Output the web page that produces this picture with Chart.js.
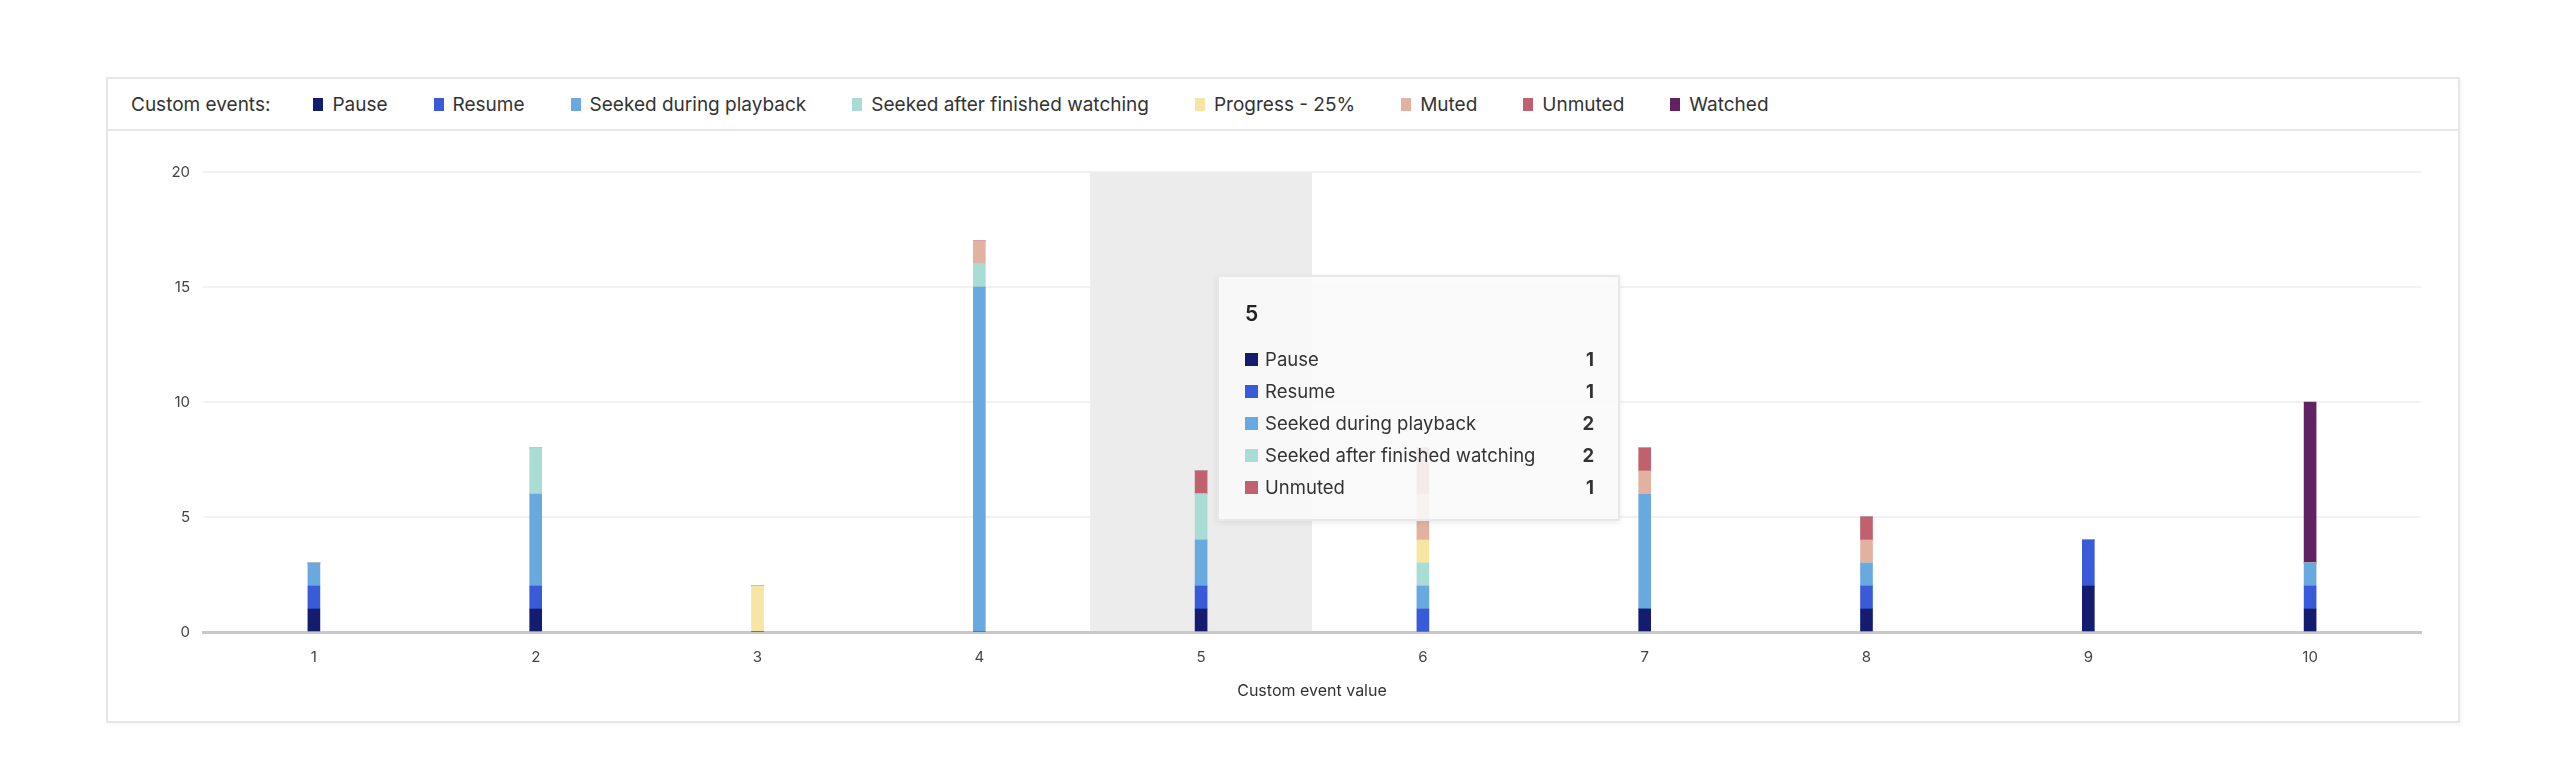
<!DOCTYPE html>
<html>
<head>
<meta charset="utf-8">
<script src="https://cdn.jsdelivr.net/npm/chart.js@4.4.0/dist/chart.umd.min.js"></script>
<style>
html, body { margin: 0; padding: 0; background: #fff; }
body { width: 2568px; height: 770px; position: relative; overflow: hidden; font-family: Inter, "Noto Sans", sans-serif; }
.card { position: absolute; left: 106px; top: 77px; width: 2354px; height: 646px; box-sizing: border-box;
        border: 2px solid #e6e6e6; box-shadow: 2px 2px 4px rgba(0,0,0,0.04); background: #fff; }
.legend { height: 50px; border-bottom: 2px solid #e6e6e6; display: flex; align-items: center; padding-left: 23px;
          font-size: 19px; color: #333; }
.legend .title { margin-right: 43px; }
.legend .item { display: flex; align-items: center; margin-right: 46px; }
.legend .sw { width: 10px; height: 13px; margin-right: 9px; }
.chart-wrap { position: absolute; left: 0; top: 52px; right: 0; bottom: 0; }
#tip { position: absolute; display: none; box-sizing: border-box; width: 403px; background: rgba(249,249,249,0.9);
       border: 2px solid #e8e8e8; box-shadow: 0 2px 6px rgba(0,0,0,0.08); padding: 25px 24px 16px 26px;
       color: #333; pointer-events: none; }
#tip .tt { font-size: 21px; font-weight: 600; line-height: 24px; margin-bottom: 17px; color: #222; }
#tip .row { display: flex; align-items: center; height: 32px; font-size: 18.5px; }
#tip .row .sq { width: 13px; height: 13px; margin-right: 7px; }
#tip .row .lb { flex: 1; }
#tip .row .v { font-weight: 700; }
</style>
</head>
<body>
<div class="card">
  <div class="legend" id="legend"><span class="title">Custom events:</span></div>
  <div class="chart-wrap">
    <canvas id="events_chart"></canvas>
    <div id="tip"></div>
  </div>
</div>
<script>
// data
var categories = ["1","2","3","4","5","6","7","8","9","10"];
var pause        = [1, 1, 0, 0, 1, 0, 1, 1, 2, 1];
var resume       = [1, 1, 0, 0, 1, 1, 0, 1, 2, 1];
var seekedDuring = [1, 4, 0, 15, 2, 1, 5, 1, 0, 1];
var seekedAfter  = [0, 2, 0, 1, 2, 1, 0, 0, 0, 0];
var progress25   = [0, 0, 2, 0, 0, 1, 0, 0, 0, 0];
var muted        = [0, 0, 0, 1, 0, 2, 1, 1, 0, 0];
var unmuted      = [0, 0, 0, 0, 1, 2, 1, 1, 0, 0];
var watched      = [0, 0, 0, 0, 0, 0, 0, 0, 0, 7];
var yTicks = [0, 5, 10, 15, 20];
var seriesNames = ["Pause","Resume","Seeked during playback","Seeked after finished watching","Progress - 25%","Muted","Unmuted","Watched"];
var seriesColors = ["#131c6e","#3a5bd9","#6aa9e0","#a8dcd4","#f6e6a4","#e2b2a0","#c1616d","#612262"];
var seriesData = [pause, resume, seekedDuring, seekedAfter, progress25, muted, unmuted, watched];
var activeIndex = 4; // hovered category "5"

// html legend
var legend = document.getElementById("legend");
seriesNames.forEach(function (name, i) {
    var it = document.createElement("span");
    it.className = "item";
    it.innerHTML = '<span class="sw" style="background:' + seriesColors[i] + '"></span>' + name;
    legend.appendChild(it);
});

var datasets = seriesNames.map(function (name, i) {
    return {
        label: name,
        data: seriesData[i],
        backgroundColor: seriesColors[i],
        hoverBackgroundColor: seriesColors[i],
        borderWidth: 0,
        barThickness: 12
    };
});

// grey band behind hovered category
var hoverBand = {
    id: "hoverBand",
    beforeDatasetsDraw: function (chart) {
        var act = chart.getActiveElements();
        if (!act.length) return;
        var x = chart.scales.x;
        var w = x.width / categories.length;
        var cx = x.getPixelForValue(act[0].index);
        var area = chart.chartArea;
        var ctx = chart.ctx;
        ctx.save();
        ctx.fillStyle = "#ececec";
        ctx.fillRect(cx - w / 2, area.top, w, area.bottom - area.top - 1);
        ctx.restore();
    }
};

function externalTip(context) {
    var tip = context.tooltip;
    var el = document.getElementById("tip");
    if (tip.opacity === 0 || !tip.dataPoints) { el.style.display = "none"; return; }
    var html = '<div class="tt">' + tip.title.join("") + '</div>';
    tip.dataPoints.forEach(function (p) {
        html += '<div class="row"><span class="sq" style="background:' + p.dataset.backgroundColor + '"></span>' +
                '<span class="lb">' + p.dataset.label + '</span><span class="v">' + p.raw + '</span></div>';
    });
    el.innerHTML = html;
    el.style.display = "block";
    el.style.left = (tip.caretX + 16) + "px";
    el.style.top = (context.chart.chartArea.top + 103) + "px";
}

var c1 = document.getElementById("events_chart").getContext("2d");
var events_chart = new Chart(c1, {
    type: "bar",
    data: { labels: categories, datasets: datasets },
    options: {
        responsive: true,
        maintainAspectRatio: false,
        animation: false,
        events: [],
        layout: { padding: { top: 41, right: 37, bottom: 20, left: 0 } },
        scales: {
            x: {
                stacked: true,
                afterFit: function (scale) { scale.height = 69; },
                grid: { display: false, drawTicks: false },
                border: { color: "#c8c8c8", width: 3 },
                ticks: { padding: 16, color: "#444", font: { family: "Inter", size: 15 } },
                title: {
                    display: true,
                    text: "Custom event value",
                    color: "#333",
                    font: { family: "Inter", size: 16 },
                    padding: { top: 13, bottom: 0 }
                }
            },
            y: {
                stacked: true,
                min: 0,
                max: 20,
                afterBuildTicks: function (scale) {
                    scale.ticks = yTicks.map(function (v) { return { value: v }; });
                },
                afterFit: function (scale) { scale.width = 95; },
                grid: { color: "#f2f2f2", lineWidth: 2, drawTicks: false },
                border: { display: false },
                ticks: { padding: 13, color: "#444", font: { family: "Inter", size: 15 } }
            }
        },
        plugins: {
            legend: { display: false },
            tooltip: {
                enabled: false,
                mode: "index",
                intersect: false,
                filter: function (item) { return item.raw > 0; },
                external: externalTip
            }
        }
    },
    plugins: [hoverBand]
});

var activeEls = [];
seriesData.forEach(function (arr, i) {
    activeEls.push({ datasetIndex: i, index: activeIndex });
});
events_chart.setActiveElements(activeEls);
events_chart.tooltip.setActiveElements(activeEls, { x: 0, y: 0 });
events_chart.update();
</script>
</body>
</html>
